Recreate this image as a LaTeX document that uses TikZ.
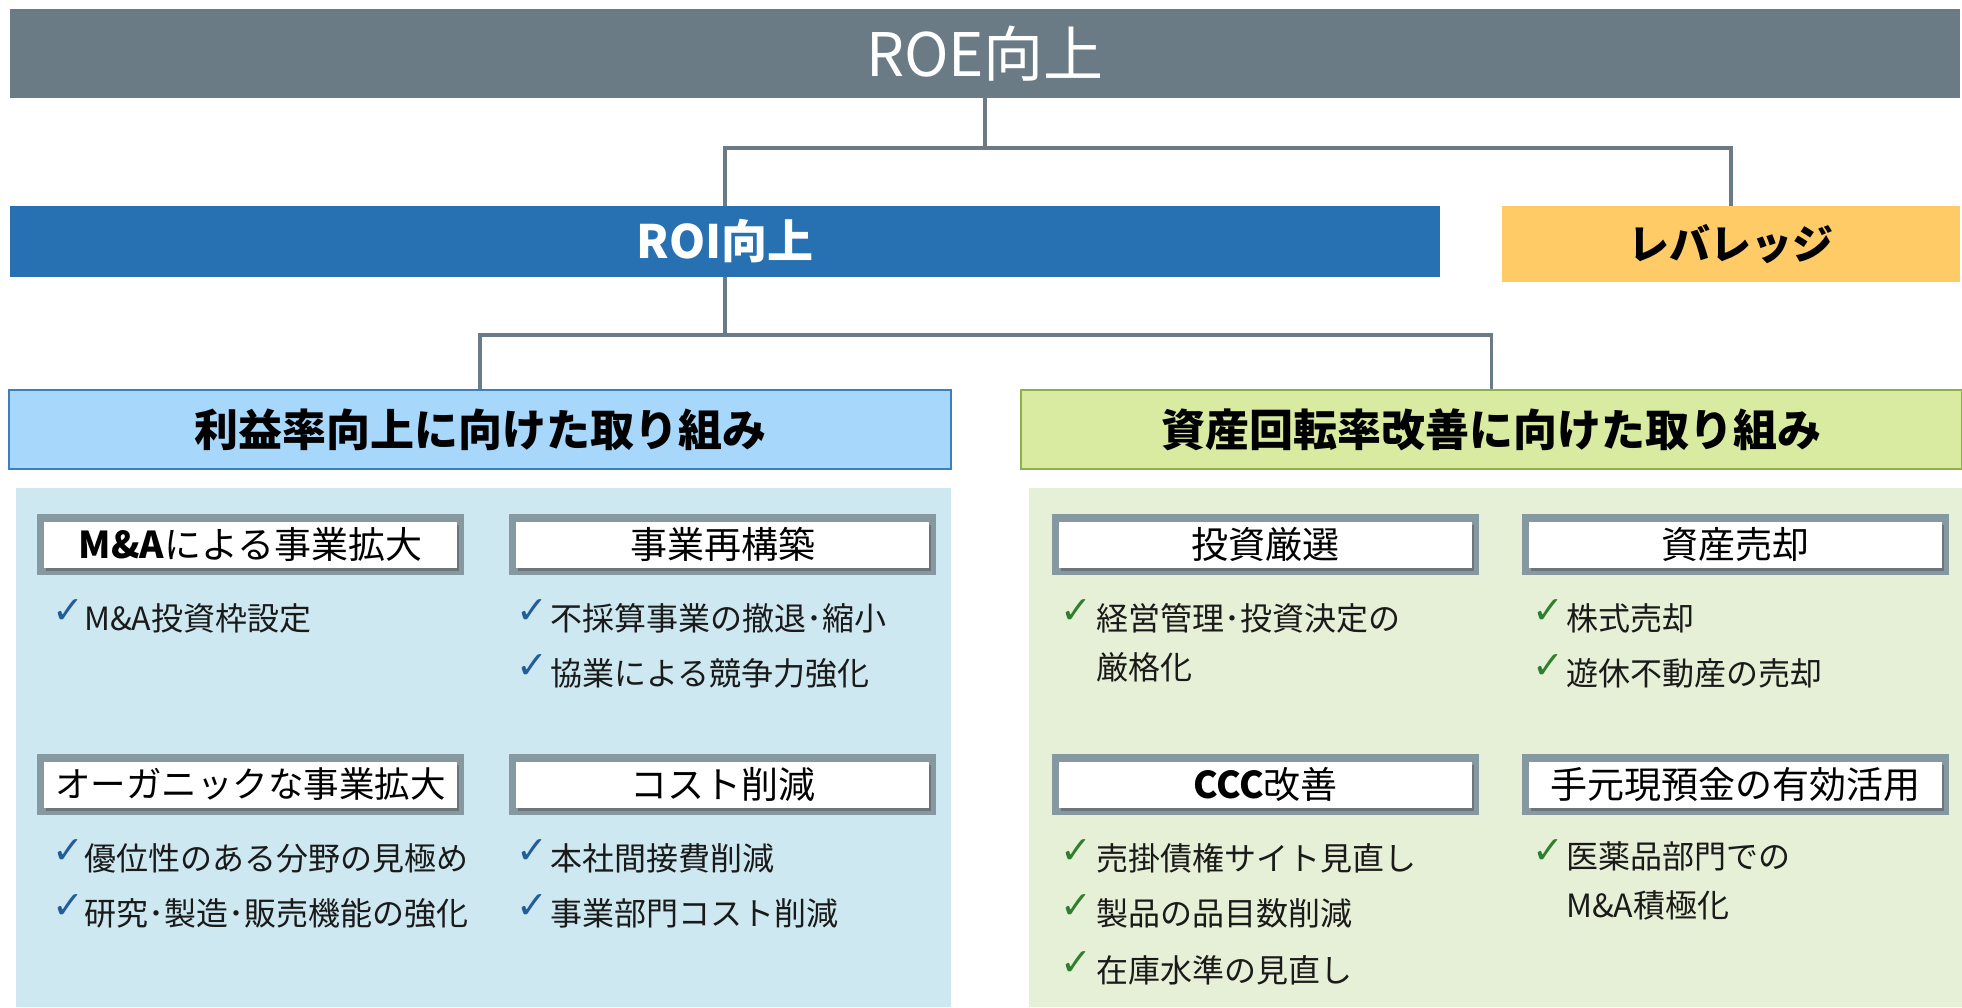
\documentclass[tikz,border=0pt]{standalone}
\usepackage{fontspec}
\setmainfont{Noto Sans CJK JP}
\newfontfamily\dejavu{DejaVu Sans}
\usetikzlibrary{shadows}
\definecolor{roeg}{HTML}{6A7B85}
\definecolor{roib}{HTML}{2771B3}
\definecolor{levy}{HTML}{FECB66}
\definecolor{hlfill}{HTML}{A7D8FB}
\definecolor{hldraw}{HTML}{3C7FC0}
\definecolor{hrfill}{HTML}{D9EBA0}
\definecolor{hrdraw}{HTML}{8DB048}
\definecolor{plfill}{HTML}{CDE8F1}
\definecolor{prfill}{HTML}{E5F0D6}
\definecolor{frameg}{HTML}{8698A0}
\definecolor{chkblue}{HTML}{1F5E9A}
\definecolor{chkgreen}{HTML}{2F7F2F}
\definecolor{txt}{HTML}{1A1A1A}
\tikzset{
  bar/.style={rectangle, inner sep=0pt},
  conn/.style={draw=roeg, line width=3.5pt},
  subframe/.style={rectangle, inner sep=0pt, minimum width=427, minimum height=61, fill=frameg},
  subinner/.style={rectangle, inner sep=0pt, minimum width=413, minimum height=46, fill=white,
    drop shadow={shadow xshift=2pt, shadow yshift=-3pt, opacity=0.45, fill=black!70},
    text=black, font=\fontsize{37}{40}\selectfont},
  itemtext/.style={anchor=west, inner sep=0pt, text=txt, align=left, font=\fontsize{32}{49}\selectfont},
  chkb/.style={anchor=west, inner sep=0pt, text=chkblue, font=\dejavu\fontsize{38}{40}\selectfont},
  chkg/.style={anchor=west, inner sep=0pt, text=chkgreen, font=\dejavu\fontsize{38}{40}\selectfont},
}
\newcommand\subbox[4]{%
  \node[subframe] (#1f) at (#2,#3) {};
  \node[subinner] (#1) at (#2,#3) {#4};
}
\begin{document}
\begin{tikzpicture}[x=1pt,y=1pt]
\useasboundingbox (0,0) rectangle (1962,-1007);
% panels
\node[bar, fill=plfill, minimum width=935, minimum height=519] (pl) at (483.5,-747.5) {};
\node[bar, fill=prfill, minimum width=933, minimum height=519] (pr) at (1495.5,-747.5) {};
% top bars
\node[bar, fill=roeg, minimum width=1950, minimum height=89, text=white, font=\fontsize{60}{64}\selectfont] (roe) at (985,-53.5) {ROE向上};
\node[bar, fill=roib, minimum width=1430, minimum height=71, text=white, font=\bfseries\fontsize{46}{50}\selectfont] (roi) at (725,-241.5) {ROI向上};
\node[bar, fill=levy, minimum width=458, minimum height=76, text=black, font=\bfseries\fontsize{41}{45}\selectfont] (lev) at (1731,-244) {レバレッジ};
% headers
\node[bar, fill=hlfill, draw=hldraw, line width=2.5pt, minimum width=942, minimum height=79, text=black, font=\bfseries\fontsize{44}{48}\selectfont] (hl) at (480,-429.5) {利益率向上に向けた取り組み};
\node[bar, fill=hrfill, draw=hrdraw, line width=2.5pt, minimum width=941, minimum height=79, text=black, font=\bfseries\fontsize{44}{48}\selectfont] (hr) at (1491.5,-429.5) {資産回転率改善に向けた取り組み};
% connectors
\coordinate (j1) at (985,-148);
\coordinate (j2) at (725,-335);
\draw[conn] (roe.south) -- (j1);
\draw[conn] (roi.north) |- (lev.north |- j1) -- (lev.north);
\draw[conn] (roi.south) -- (j2);
\draw[conn] (hl.north) |- (hr.north |- j2) -- (hr.north);
% sub boxes
\subbox{sa}{250.5}{-544.5}{\textbf{M\&A}による事業拡大}
\subbox{sb}{722.5}{-544.5}{事業再構築}
\subbox{sc}{250.5}{-784.5}{\fontsize{35.5}{40}\selectfont オーガニックな事業拡大}
\subbox{sd}{722.5}{-784.5}{コスト削減}
\subbox{se}{1265.5}{-544.5}{投資厳選}
\subbox{sf}{1735.5}{-544.5}{資産売却}
\subbox{sg}{1265.5}{-784.5}{\textbf{CCC}改善}
\subbox{sh}{1735.5}{-784.5}{手元現預金の有効活用}
% left items
\node[chkb] (c1) at (52,-612) {✓};
\node[itemtext] (i1) at (84,-618) {M\&A投資枠設定};
\node[chkb] (c2) at (52,-852) {✓};
\node[itemtext] (i2) at (84,-858) {優位性のある分野の見極め};
\node[chkb] (c3) at (52,-907) {✓};
\node[itemtext] (i3) at (84,-913) {研究･製造･販売機能の強化};
\node[chkb] (c4) at (516,-612) {✓};
\node[itemtext] (i4) at (550,-618) {不採算事業の撤退･縮小};
\node[chkb] (c5) at (516,-667) {✓};
\node[itemtext] (i5) at (550,-673) {協業による競争力強化};
\node[chkb] (c6) at (516,-852) {✓};
\node[itemtext] (i6) at (550,-858) {本社間接費削減};
\node[chkb] (c7) at (516,-907) {✓};
\node[itemtext] (i7) at (550,-913) {事業部門コスト削減};
% right items
\node[chkg] (c8) at (1060,-612) {✓};
\node[itemtext] (i8) at (1096,-642.5) {経営管理･投資決定の\\厳格化};
\node[chkg] (c9) at (1060,-852) {✓};
\node[itemtext] (i9) at (1096,-858) {売掛債権サイト見直し};
\node[chkg] (c10) at (1060,-907) {✓};
\node[itemtext] (i10) at (1096,-913) {製品の品目数削減};
\node[chkg] (c11) at (1060,-964) {✓};
\node[itemtext] (i11) at (1096,-970) {在庫水準の見直し};
\node[chkg] (c12) at (1532,-612) {✓};
\node[itemtext] (i12) at (1566,-618) {株式売却};
\node[chkg] (c13) at (1532,-667) {✓};
\node[itemtext] (i13) at (1566,-673) {遊休不動産の売却};
\node[chkg] (c14) at (1532,-852) {✓};
\node[itemtext] (i14) at (1566,-880.5) {医薬品部門での\\M\&A積極化};
\end{tikzpicture}
\end{document}
